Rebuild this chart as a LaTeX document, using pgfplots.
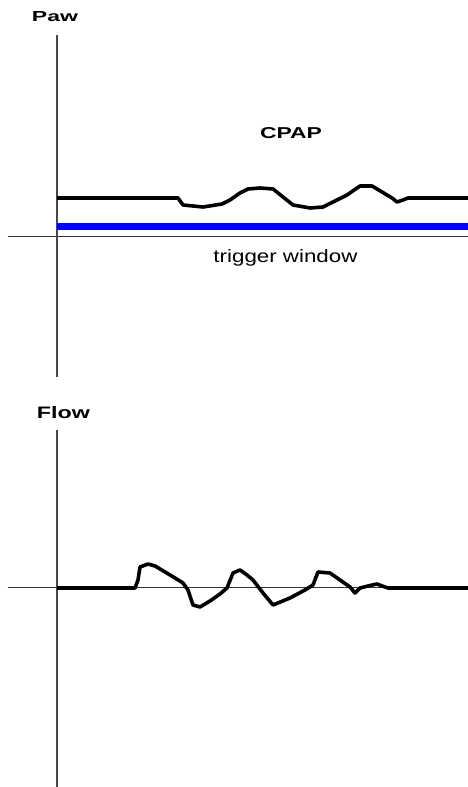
\documentclass[border=0pt]{standalone}
\usepackage{pgfplots}
\pgfplotsset{compat=1.18}
\usepackage{fontspec}
\setmainfont{Liberation Sans}
\begin{document}
\begin{tikzpicture}[x=1pt,y=1pt]
\useasboundingbox (0,0) rectangle (468,787);
\pgfplotsset{panel/.style={scale only axis, width=460pt, xmin=-49, xmax=411,
  axis lines=middle, xtick=\empty, ytick=\empty, clip=false,
  x axis line style={-, line width=1pt, black!80},
  y axis line style={-, line width=1.6pt, black!72}}}
% Paw panel
\begin{axis}[panel, at={(8,410)}, anchor=south west, height=342pt, ymin=-140, ymax=202]
\addplot[color={rgb,255:red,0;green,0;blue,255}, line width=7pt] coordinates {(0,10.5) (411,10.5)};
\addplot[black, line width=3.6pt, line join=round] coordinates {
(0,39) (121,39) (126,32) (146,30) (165,33) (173,37) (183,44) (191,48) (203,49)
(216,48) (226,40) (236,32) (253,29) (266,30) (276,35) (290,42) (303,51) (315,51)
(325,45) (335,39) (340,35) (346,37) (351,39) (411,39)};
\end{axis}
% Flow panel
\begin{axis}[panel, at={(8,0)}, anchor=south west, height=357pt, ymin=-199, ymax=158]
\addplot[black, line width=3.6pt, line join=round] coordinates {
(0,0) (78,0) (81,8) (83,21) (91,24) (98,22) (108,16) (118,10) (126,5) (131,-2)
(136,-17) (143,-19) (153,-13) (163,-6) (170,0) (176,15) (183,18) (190,13) (196,8)
(206,-5) (216,-17) (233,-10) (248,-2) (256,3) (261,16) (273,15) (283,8) (293,1)
(298,-5) (303,0) (311,2) (320,4) (328,1) (331,0) (411,0)};
\end{axis}
\node[anchor=base, inner sep=0pt] at (55,765) {\resizebox{46pt}{10pt}{\bfseries Paw}};
\node[anchor=base, inner sep=0pt] at (63.5,368) {\resizebox{53pt}{12pt}{\bfseries Flow}};
\node[anchor=base, inner sep=0pt] at (291,648) {\resizebox{62pt}{11pt}{\bfseries CPAP}};
\node[anchor=base, inner sep=0pt] at (285.5,524) {\resizebox{144pt}{13pt}{trigger window}};
\end{tikzpicture}
\end{document}
